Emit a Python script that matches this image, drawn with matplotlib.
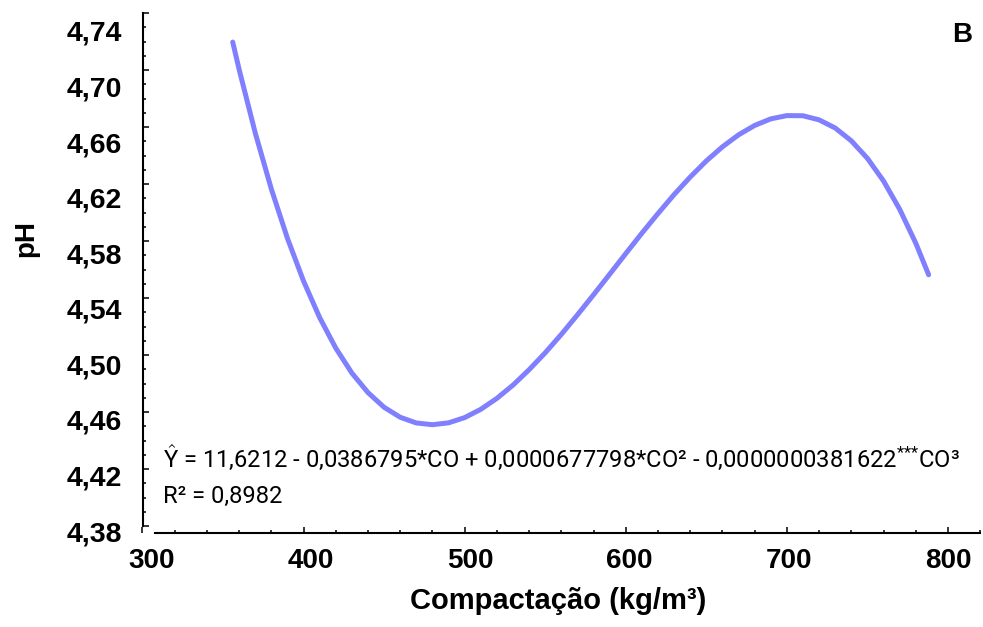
import matplotlib
matplotlib.use("Agg")
import matplotlib.pyplot as plt
from matplotlib.ticker import MultipleLocator

plt.rcParams['font.family'] = ['Liberation Sans', 'DejaVu Sans']
plt.rcParams['mathtext.fontset'] = 'custom'
plt.rcParams['mathtext.rm'] = 'Roboto'
plt.rcParams['mathtext.it'] = 'Roboto:italic'

# curve (compaction kg/m3 -> pH)
co = [356, 360, 370, 380, 390, 400, 410, 420, 430, 440, 450, 460,
      470, 480, 490, 500, 510, 520, 530, 540, 550, 560,
      570, 580, 590, 600, 610, 620, 630, 640, 650, 660,
      670, 680, 690, 700, 710, 720, 730, 740, 750, 760,
      770, 780, 788]
ph = [4.7196, 4.7003, 4.6558, 4.6164, 4.5818, 4.5518, 4.5262, 4.5048, 4.4873, 4.4736, 4.4633, 4.4563,
      4.4523, 4.4511, 4.4524, 4.4561, 4.4619, 4.4696, 4.4789, 4.4897, 4.5016, 4.5145,
      4.5282, 4.5423, 4.5567, 4.5712, 4.5855, 4.5993, 4.6126, 4.6249, 4.6362, 4.6461,
      4.6545, 4.6611, 4.6657, 4.6680, 4.6679, 4.6650, 4.6593, 4.6503, 4.6380, 4.6221,
      4.6023, 4.5785, 4.5563]

xticks = [300, 400, 500, 600, 700, 800]
yticks = [4.38, 4.42, 4.46, 4.50, 4.54, 4.58, 4.62, 4.66, 4.70, 4.74]
ylabels = [f"{v:.2f}".replace('.', ',') for v in yticks]

equation = (r"$\hat{\mathrm{Y}}$ = 11,6212 - 0,0386795*CO + 0,0000677798*CO² - "
            r"0,0000000381622$^{{*}{*}{*}}$CO³")
r2_text = "R² = 0,8982"

W, H = 983, 627
fig = plt.figure(figsize=(W / 100, H / 100), dpi=100)


def box(l, t, r, b):
    return [l / W, 1 - b / H, (r - l) / W, (b - t) / H]


pos = box(142.5, 13, 980.2, 533)
ax = fig.add_axes(pos)
ax.plot(co, ph, color='#8080ff', lw=3.6, solid_capstyle='round',
        solid_joinstyle='round')
ax.set_xlim(300, 820)
ax.set_ylim(4.3751, 4.74)
for s in ['top', 'right']:
    ax.spines[s].set_visible(False)
ax.spines['left'].set_linewidth(1.5)
ax.spines['bottom'].set_linewidth(1.5)
ax.spines['left'].set_bounds(4.38, 4.74)
ax.spines['bottom'].set_bounds(308, 820)
ax.set_xticks(xticks)
ax.set_yticks(yticks)
ax.xaxis.set_minor_locator(MultipleLocator(20))
ax.yaxis.set_minor_locator(MultipleLocator(0.01))
ax.tick_params(which='both', direction='in', labelleft=False, labelbottom=False,
               width=1.1, color='black')
ax.tick_params(which='major', length=4.5)
ax.tick_params(which='minor', length=2.5)

# tick labels sit a little off the tick marks in the original
lab = fig.add_axes(pos, frameon=False)
lab.set_xlim(294.03, 820.2)
lab.set_ylim(4.37856, 4.75296)
lab.set_xticks(xticks, [str(v) for v in xticks])
lab.set_yticks(yticks, ylabels)
lab.tick_params(axis='x', length=0, labelsize=20, pad=11)
lab.tick_params(axis='y', length=0, labelsize=20.5, pad=15)
for t in lab.get_xticklabels() + lab.get_yticklabels():
    t.set_fontweight('bold')

fig.text(26 / W, 1 - 239 / H, 'pH', rotation=90, ha='center', va='center',
         fontsize=20, fontweight='bold')
fig.text(558 / W, 1 - 601 / H, 'Compactação (kg/m³)', ha='center', va='center',
         fontsize=21, fontweight='bold')
fig.text(962 / W, 1 - 35 / H, 'B', ha='center', va='center',
         fontsize=20, fontweight='bold')
fig.text(163 / W, 1 - 467 / H, equation, ha='left', va='baseline',
         fontsize=17.1, family=['Roboto', 'DejaVu Sans'])
fig.text(163 / W, 1 - 503 / H, r2_text, ha='left', va='baseline',
         fontsize=17.1, family=['Roboto', 'DejaVu Sans'])

fig.savefig('out.png', dpi=100)
